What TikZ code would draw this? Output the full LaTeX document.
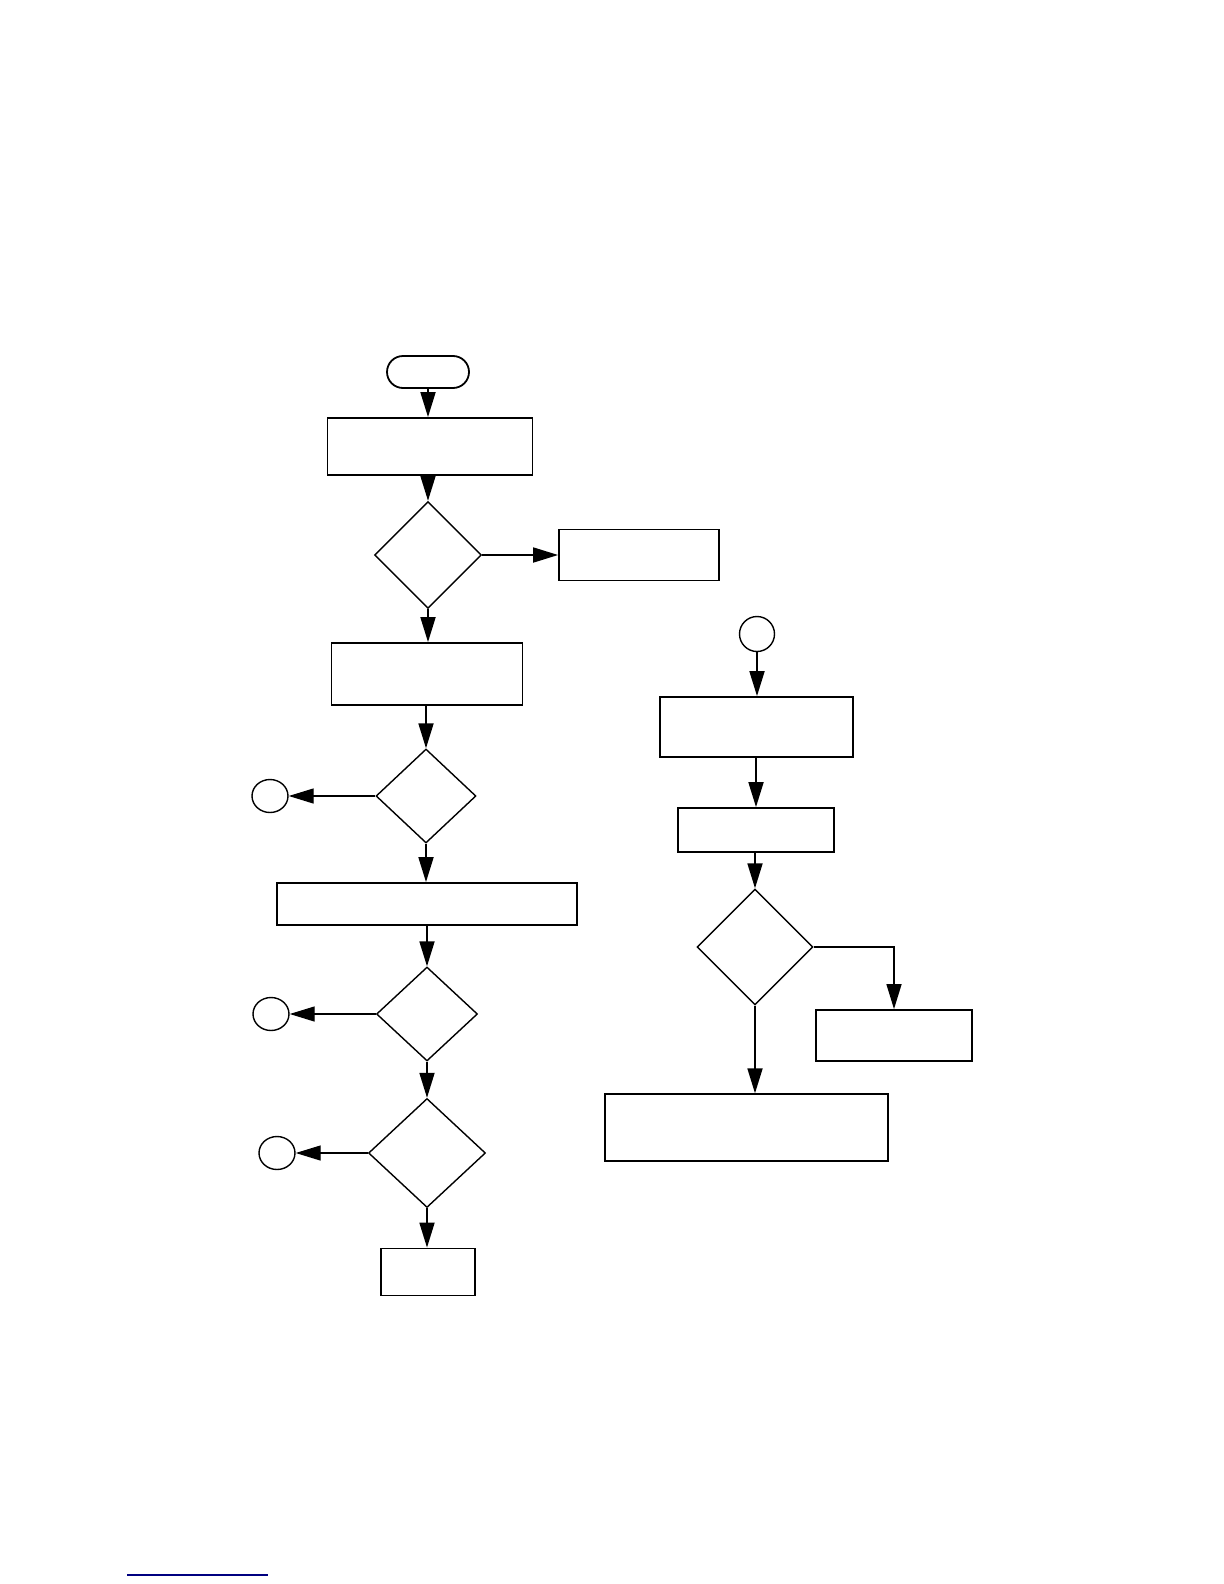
\documentclass[tikz,border=0pt]{standalone}
\usetikzlibrary{arrows.meta,shapes.geometric,shapes.misc}
\begin{document}
\begin{tikzpicture}[x=0.5pt, y=-0.5pt, >={Triangle[length=12.5pt,width=7.5pt]},
  box/.style={draw, line width=0.9pt, inner sep=0pt},
  dec/.style={draw, diamond, line width=0.7pt, inner sep=0pt},
  conn/.style={draw, ellipse, line width=0.7pt, inner sep=0pt,
    minimum width=18pt, minimum height=16.5pt},
  flow/.style={->, line width=0.9pt},
  side/.style={->, line width=0.7pt}]
\useasboundingbox (0,0) rectangle (1224,1584);
% left column
\node[box, rounded rectangle, minimum width=41pt, minimum height=16pt] (start) at (428,372) {};
\node[box, minimum width=102.5pt, minimum height=28.5pt] (init) at (430,446.5) {};
\node[dec, minimum width=53.5pt, minimum height=53.5pt] (chk1) at (428,555) {};
\node[box, minimum width=80pt, minimum height=25.5pt] (err) at (639,555) {};
\node[box, minimum width=95.5pt, minimum height=31pt] (load) at (427,674) {};
\node[dec, minimum width=50pt, minimum height=47pt] (chk2) at (426,796) {};
\node[conn] (outa) at (270,796) {};
\node[box, minimum width=150pt, minimum height=21pt] (proc) at (427,904) {};
\node[dec, minimum width=50.5pt, minimum height=47pt] (chk3) at (427,1014) {};
\node[conn] (outb) at (271,1014) {};
\node[dec, minimum width=58.5pt, minimum height=54.5pt] (chk4) at (427,1153) {};
\node[conn] (outc) at (277,1153) {};
\node[box, minimum width=47pt, minimum height=23.5pt] (stop) at (428,1272) {};
\draw[flow] (start.south) -- (start.south |- init.north);
\draw[flow] (init.south -| chk1.north) -- (chk1.north);
\draw[flow] (chk1.east) -- (chk1.east -| err.west);
\draw[flow] (chk1.south) -- (chk1.south |- load.north);
\draw[flow] (load.south -| chk2.north) -- (chk2.north);
\draw[side] (chk2.west) -- (outa.east);
\draw[flow] (chk2.south) -- (chk2.south |- proc.north);
\draw[flow] (proc.south -| chk3.north) -- (chk3.north);
\draw[side] (chk3.west) -- (outb.east);
\draw[flow] (chk3.south) -- (chk4.north);
\draw[side] (chk4.west) -- (outc.east);
\draw[flow] (chk4.south) -- (chk4.south |- stop.north);
% right column
\node[conn, minimum width=17.5pt, minimum height=17.5pt] (entry) at (757,634) {};
\node[box, minimum width=96.5pt, minimum height=30pt] (setup) at (756.5,727) {};
\node[box, minimum width=78pt, minimum height=22pt] (step2) at (756,830) {};
\node[dec, minimum width=58pt, minimum height=58pt] (chk5) at (755,947) {};
\node[box, minimum width=78pt, minimum height=25.5pt] (alt) at (894,1035.5) {};
\node[box, line width=0.7pt, minimum width=141.5pt, minimum height=33.5pt] (final) at (746.5,1127.5) {};
\draw[flow] (entry.south) -- (entry.south |- setup.north);
\draw[flow] (setup.south -| step2.north) -- (step2.north);
\draw[flow] (step2.south -| chk5.north) -- (chk5.north);
\draw[side] (chk5.east) -| (alt.north);
\draw[flow] (chk5.south) -- (chk5.south |- final.north);
% link rule
\draw[line width=0.8pt, blue!50!black] (127,1575) -- (268,1575);
\end{tikzpicture}
\end{document}
